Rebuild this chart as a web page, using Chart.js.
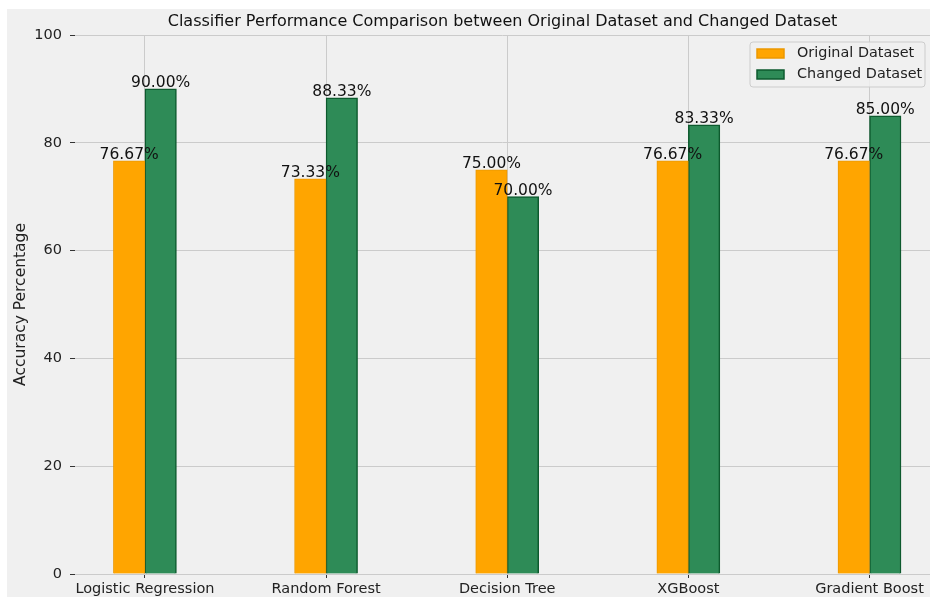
<!DOCTYPE html>
<html>
<head>
<meta charset="utf-8">
<script src="https://cdn.jsdelivr.net/npm/chart.js@4.4.1/dist/chart.umd.min.js"></script>
<style>
  html, body { margin: 0; padding: 0; background: #ffffff; overflow: hidden; }
  body { width: 930px; height: 597px; position: relative; }
  #frame { position: absolute; left: 7px; top: 9px; width: 923px; height: 588px; background: #f0f0f0; }
  canvas { display: block; }
</style>
</head>
<body>
<div id="frame"><canvas id="chart" width="923" height="588"></canvas></div>
<script>
// Classifier names along the x axis
const categories = ['Logistic Regression', 'Random Forest', 'Decision Tree', 'XGBoost', 'Gradient Boost'];
// Accuracy (%) on each dataset
const originalScores = [76.67, 73.33, 75.00, 76.67, 76.67];
const changedScores = [90.00, 88.33, 70.00, 83.33, 85.00];
// Y axis ticks
const yTicks = [0, 20, 40, 60, 80, 100];

const FONT = "'DejaVu Sans', 'Liberation Sans', sans-serif";
const TITLE = 'Classifier Performance Comparison between Original Dataset and Changed Dataset';
const toPoints = arr => arr.map((v, i) => ({ x: i, y: v }));

// Chart title centred over the plot area
const plotTitle = {
  id: 'plotTitle',
  afterDraw(chart) {
    const ctx = chart.ctx;
    const area = chart.chartArea;
    ctx.save();
    ctx.font = '16px ' + FONT;
    ctx.fillStyle = '#111111';
    ctx.textAlign = 'center';
    ctx.textBaseline = 'middle';
    ctx.fillText(TITLE, (area.left + area.right) / 2, area.top - 13);
    ctx.restore();
  }
};

// Value labels above each bar, drawn after all bars
const valueLabels = {
  id: 'valueLabels',
  afterDatasetsDraw(chart) {
    const ctx = chart.ctx;
    ctx.save();
    ctx.font = '15.5px ' + FONT;
    ctx.fillStyle = '#111111';
    ctx.textAlign = 'center';
    ctx.textBaseline = 'alphabetic';
    chart.data.datasets.forEach((ds, di) => {
      const meta = chart.getDatasetMeta(di);
      meta.data.forEach((bar, i) => {
        ctx.fillText(ds.data[i].y.toFixed(2) + '%', bar.x, bar.y - 2);
      });
    });
    ctx.restore();
  }
};

// Legend box in the upper right corner of the plot
const cornerLegend = {
  id: 'cornerLegend',
  afterDraw(chart) {
    const ctx = chart.ctx;
    const area = chart.chartArea;
    const w = 175, h = 45;
    const left = area.right - w - 5, top = area.top + 7;
    ctx.save();
    ctx.beginPath();
    ctx.roundRect(left, top, w, h, 3);
    ctx.fillStyle = 'rgba(240,240,240,0.85)';
    ctx.fill();
    ctx.strokeStyle = '#cccccc';
    ctx.lineWidth = 1;
    ctx.stroke();
    ctx.font = '14.4px ' + FONT;
    ctx.textBaseline = 'middle';
    ctx.textAlign = 'left';
    chart.data.datasets.forEach((ds, i) => {
      const cy = top + 11.5 + i * 21;
      ctx.fillStyle = ds.backgroundColor;
      ctx.fillRect(left + 7, cy - 4.5, 27, 9);
      ctx.strokeStyle = ds.borderColor;
      ctx.lineWidth = 1.5;
      ctx.strokeRect(left + 7, cy - 4.5, 27, 9);
      ctx.fillStyle = '#222222';
      ctx.fillText(ds.label, left + 47, cy);
    });
    ctx.restore();
  }
};

new Chart(document.getElementById('chart'), {
  type: 'bar',
  data: {
    datasets: [
      {
        label: 'Original Dataset',
        data: toPoints(originalScores),
        backgroundColor: '#ffa500',
        borderColor: '#eb9800',
        borderWidth: 1
      },
      {
        label: 'Changed Dataset',
        data: toPoints(changedScores),
        backgroundColor: '#2e8b57',
        borderColor: '#0d5a2e',
        borderWidth: 1.5
      }
    ]
  },
  options: {
    responsive: false,
    animation: false,
    devicePixelRatio: 1,
    layout: { padding: { top: 26, left: 0, right: 0, bottom: 0 } },
    datasets: { bar: { barThickness: 31.5, grouped: true } },
    plugins: {
      legend: { display: false },
      tooltip: { enabled: false },
      title: { display: false }
    },
    scales: {
      x: {
        type: 'linear',
        offset: false,
        min: -0.386,
        max: 4.334,
        border: { display: false },
        grid: { offset: false, color: '#cbcbcb', lineWidth: 1, tickColor: '#333333', tickLength: 4 },
        afterBuildTicks: scale => { scale.ticks = categories.map((_, i) => ({ value: i })); },
        afterFit: scale => { scale.height = 23; },
        ticks: {
          includeBounds: false,
          autoSkip: false,
          maxRotation: 0,
          padding: 3,
          color: '#222222',
          font: { family: FONT, size: 14.5 },
          callback: v => categories[v] ?? ''
        }
      },
      y: {
        min: 0,
        max: 100,
        border: { display: false },
        grid: { color: '#cbcbcb', lineWidth: 1, tickColor: '#333333', tickLength: 5 },
        afterBuildTicks: scale => { scale.ticks = yTicks.map(v => ({ value: v })); },
        afterFit: scale => { scale.width = 68; },
        ticks: {
          padding: 8,
          color: '#222222',
          font: { family: FONT, size: 14.5 }
        },
        title: {
          display: true,
          text: 'Accuracy Percentage',
          color: '#222222',
          font: { family: FONT, size: 15.5 },
          padding: { top: 4.7, bottom: 0 }
        }
      }
    }
  },
  plugins: [valueLabels, cornerLegend, plotTitle]
});
</script>
</body>
</html>
